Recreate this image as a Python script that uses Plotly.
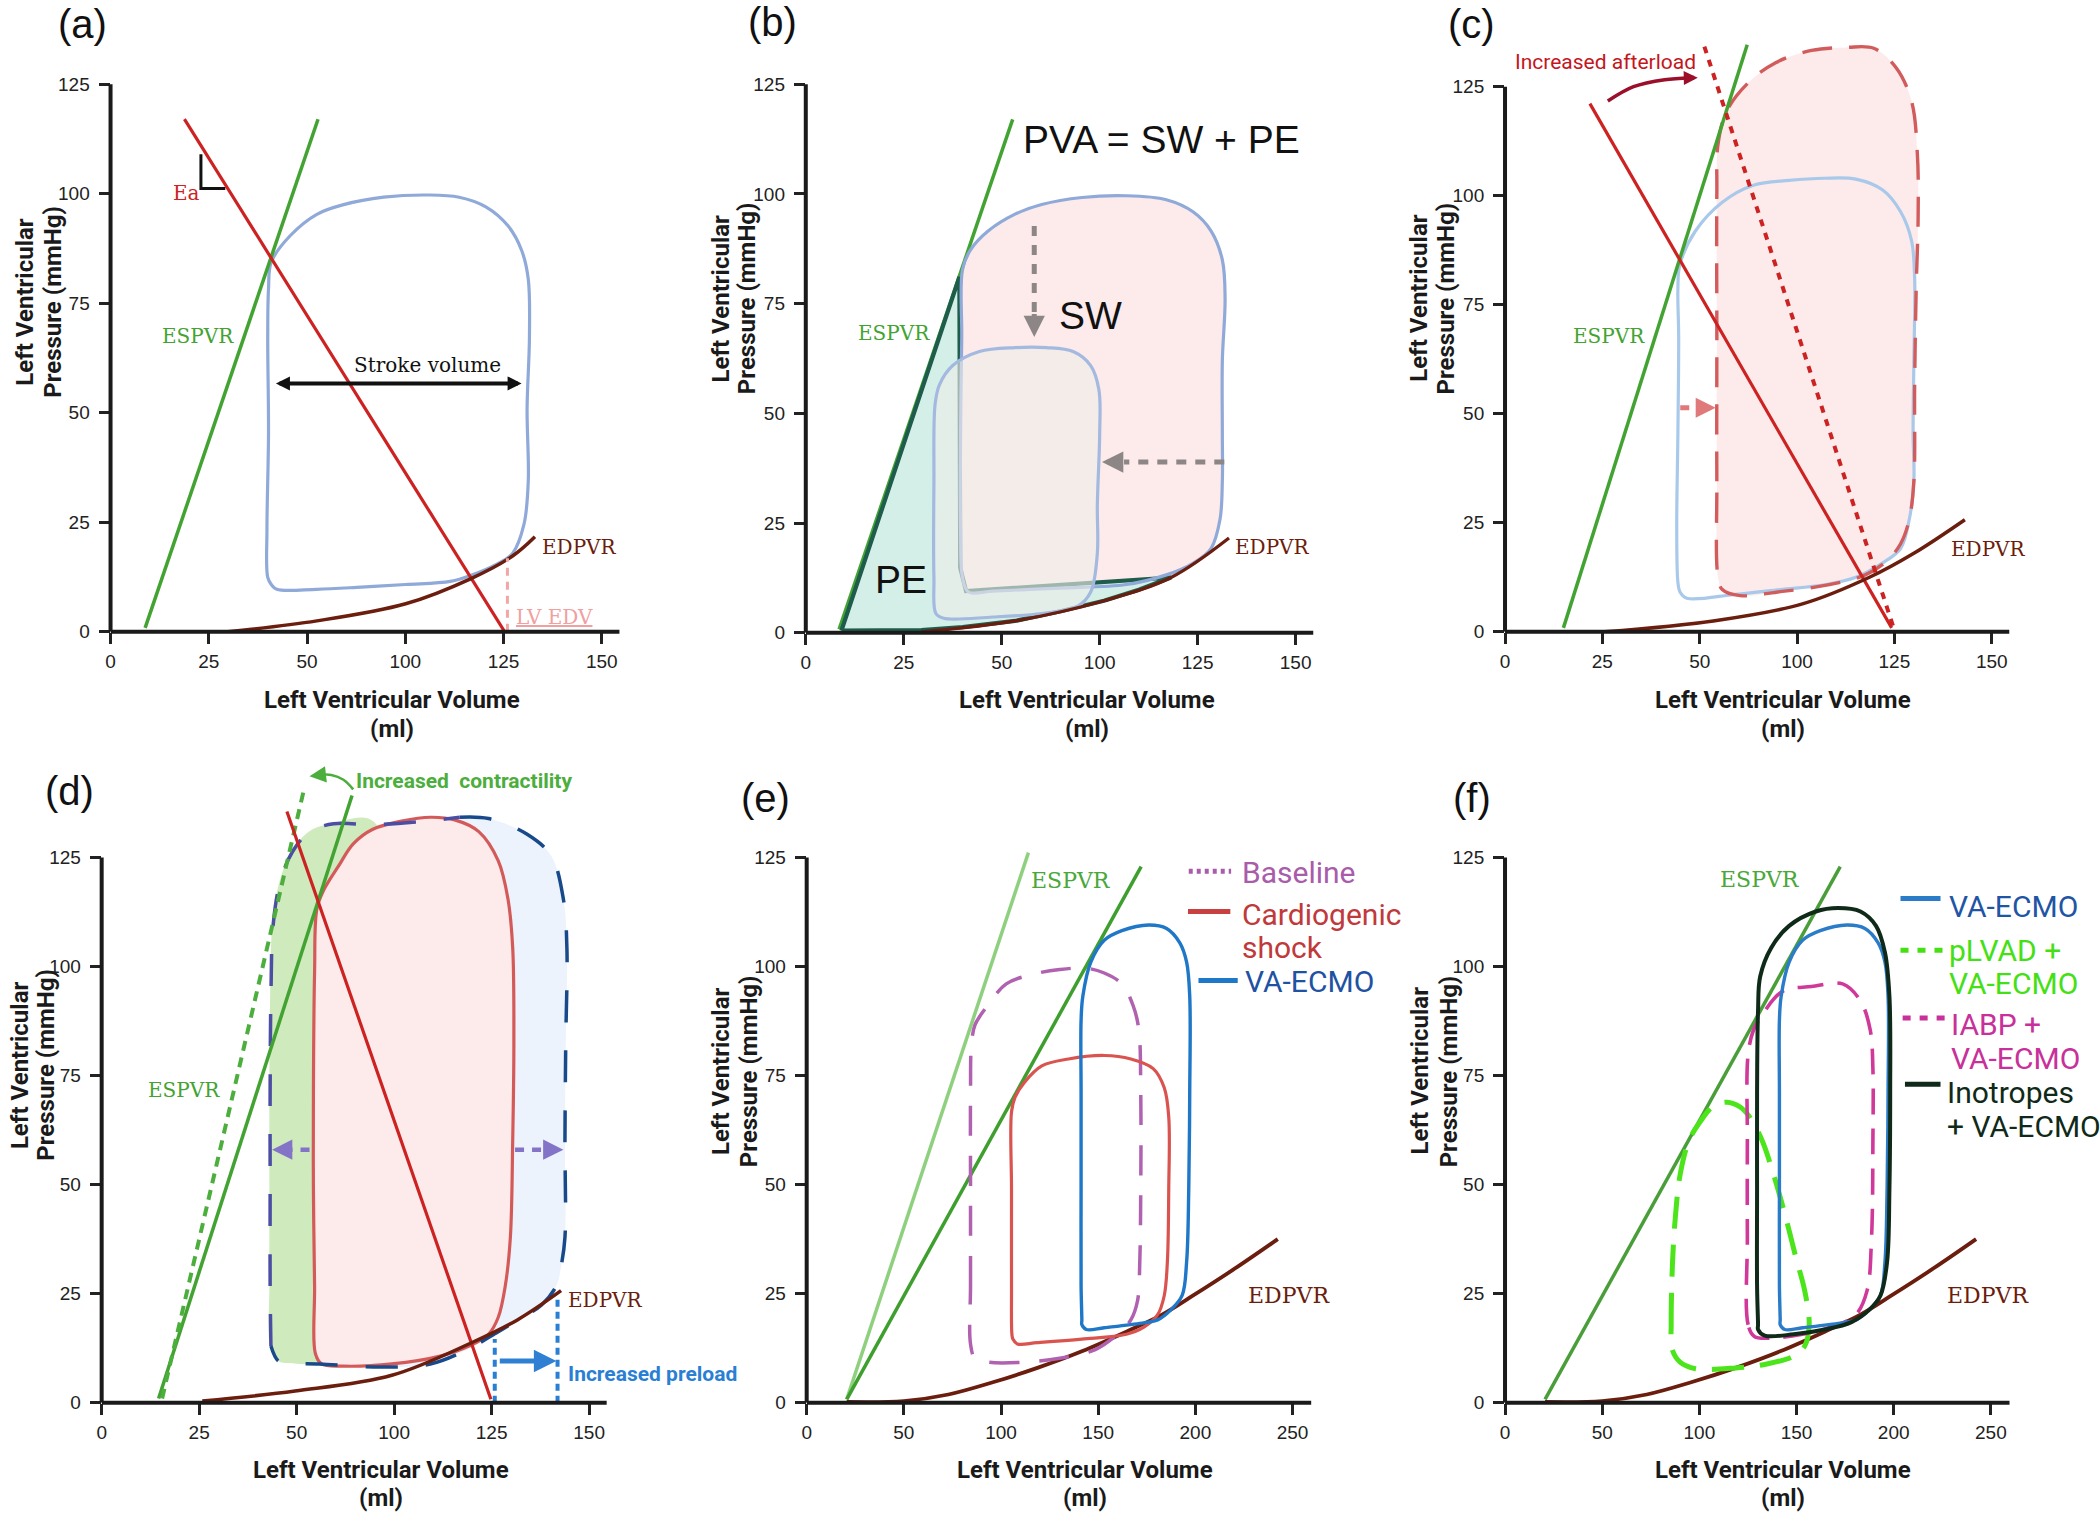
import plotly.graph_objects as go

W, H = 2100, 1523
SERIF = "DejaVu Serif"
SANS = "Liberation Sans"
ROBOTO = "Roboto"

# ---------------- axis ticks ----------------
XT_VALS_AD = [0, 25, 50, 75, 100, 125]
XT_TEXT_AD = ["0", "25", "50", "100", "125", "150"]
XT_VALS_EF = [0, 50, 100, 150, 200, 250]
XT_TEXT_EF = ["0", "50", "100", "150", "200", "250"]
YT_VALS = [0, 25, 50, 75, 100, 125]
YT_TEXT = ["0", "25", "50", "75", "100", "125"]
AXIS_END_AD = 129.5
AXIS_END_EF = 259.6
Y_AXIS_TOP = 125
X_TITLE = ["Left Ventricular Volume", "(ml)"]
Y_TITLE = ["Left Ventricular", "Pressure (mmHg)"]

# ---------------- panel (a) ----------------
A_ESPVR_V = [8.8, 52.8]
A_ESPVR_P = [0.9, 117.0]
A_EA_V = [18.8, 100.3]
A_EA_P = [117.0, 0.0]
A_EDPVR_V = [29.8, 52.5, 75.1, 91.6, 102.3, 108.0]
A_EDPVR_P = [0.0, 2.5, 6.4, 12.1, 17.3, 21.7]
A_LOOP_V = [40.0, 39.8, 40.2, 40.0, 40.2, 40.9, 45.7, 52.5, 59.3, 69.5, 80.8, 88.7, 95.5, 101.2, 104.6,
            106.3, 106.6, 106.0, 106.3, 105.2, 102.3, 97.8, 92.1, 86.5, 75.1, 63.8, 52.5, 42.3, 40.9, 40.0]
A_LOOP_P = [12.4, 23.4, 45.4, 67.3, 78.3, 84.4, 90.4, 95.3, 97.5, 99.2, 99.7, 99.2, 97.0, 92.6, 87.1,
            80.5, 67.3, 50.9, 34.4, 24.5, 17.9, 15.2, 13.0, 11.5, 10.8, 10.2, 9.7, 9.7, 10.8, 12.4]
A_SV_V = [41.7, 104.6]
A_SV_P = [56.7, 56.7]
A_EA_MARK_V = [23.0, 23.0, 29.2]
A_EA_MARK_P = [109.0, 101.2, 101.2]
A_EDV_V = [101.0, 101.0]
A_EDV_P = [0.0, 16.8]

# ---------------- panel (b) ----------------
B_ESPVR_V = [8.5, 52.8]
B_ESPVR_P = [0.8, 117.0]
B_EDPVR_V = [29.5, 53.4, 76.1, 93.2, 108.0]
B_EDPVR_P = [0.2, 2.7, 7.3, 12.6, 21.6]
B_BIG_V = [40.0, 42.0, 46.6, 53.4, 60.2, 70.5, 81.8, 92.0, 98.9, 103.4, 106.3, 107.0, 106.3, 106.3, 106.3,
           105.7, 103.4, 98.9, 92.0, 81.8, 64.8, 47.7, 41.5, 40.0, 39.5, 39.5, 39.8, 40.0]
B_BIG_P = [82.8, 87.2, 91.6, 95.4, 97.6, 99.2, 99.6, 98.7, 95.9, 91.6, 85.0, 76.2, 62.0, 45.5, 34.5,
           25.8, 19.2, 15.9, 13.2, 11.0, 10.2, 9.5, 9.3, 12.6, 23.6, 45.5, 67.4, 82.8]
B_SMALL_V = [37.5, 44.3, 53.4, 61.4, 68.2, 72.7, 74.8, 75.0, 74.4, 74.4, 72.7, 69.3, 60.2, 47.7, 35.2,
             33.2, 32.7, 32.7, 33.0, 34.1, 37.5]
B_SMALL_P = [60.9, 64.1, 65.0, 65.0, 64.1, 60.9, 55.4, 45.5, 29.1, 18.1, 9.3, 6.0, 4.4, 3.6, 3.3,
             4.4, 12.6, 34.5, 52.1, 56.5, 60.9]
B_PE_V = [9.1, 39.2, 39.4, 40.9, 93.2, 85.0, 76.1, 65.0, 53.4, 40.0, 29.5, 9.1]
B_PE_P = [0.5, 81.1, 14.8, 9.5, 12.6, 9.8, 7.3, 4.9, 2.7, 1.3, 0.6, 0.5]
B_ARROW_DOWN_V = [58.3, 58.3]
B_ARROW_DOWN_P = [92.7, 67.4]
B_ARROW_LEFT_V = [106.8, 75.6]
B_ARROW_LEFT_P = [38.9, 38.9]

# ---------------- panel (c) ----------------
C_ESPVR_V = [15.0, 62.2]
C_ESPVR_P = [0.9, 134.6]
C_EA_V = [21.8, 99.3]
C_EA_P = [121.1, 0.9]
C_EA_HIGH_V = [51.2, 99.8]
C_EA_HIGH_P = [134.2, 0.9]
C_EDPVR_V = [25.5, 53.5, 76.4, 93.6, 105.0, 118.1]
C_EDPVR_P = [0.0, 2.5, 6.4, 12.5, 18.0, 25.7]
C_BASE_V = [44.4, 44.1, 44.4, 44.6, 44.4, 44.9, 48.9, 55.8, 63.8, 73.0, 82.1, 90.1, 97.0, 101.6, 104.4,
            105.2, 105.0, 104.8, 105.0, 103.8, 101.6, 97.0, 90.1, 82.1, 70.7, 59.2, 46.7, 44.9, 44.4]
C_BASE_P = [11.4, 23.5, 45.6, 67.6, 78.7, 84.2, 91.9, 98.5, 102.4, 103.5, 104.0, 103.8, 101.3, 96.3, 89.7,
            80.9, 62.1, 45.6, 34.5, 25.7, 19.1, 15.8, 12.5, 10.8, 9.7, 8.6, 7.7, 9.2, 11.4]
C_AFTER_V = [54.7, 54.4, 54.4, 54.4, 54.7, 57.0, 62.7, 69.5, 78.7, 87.8, 94.7, 100.4, 104.4, 105.9, 106.1,
             105.6, 105.2, 105.0, 103.8, 101.6, 98.1, 92.4, 83.3, 70.7, 60.4, 55.8, 54.7]
C_AFTER_P = [12.5, 34.5, 67.6, 100.7, 111.8, 119.5, 126.1, 130.5, 133.3, 134.0, 133.8, 129.4, 121.7, 109.6, 95.2,
             78.7, 56.6, 34.5, 25.7, 20.2, 16.3, 13.0, 10.8, 9.2, 8.3, 9.7, 12.5]
C_SHIFT_V = [45.0, 54.1]
C_SHIFT_P = [51.4, 51.4]
C_CURVE_V = [26.4, 33.0, 41.0, 47.5]
C_CURVE_P = [121.7, 125.0, 126.6, 127.0]

# ---------------- panel (d) ----------------
D_ESPVR_V = [14.6, 64.2]
D_ESPVR_P = [1.0, 139.2]
D_ESPVR_HIGH_V = [15.5, 52.1]
D_ESPVR_HIGH_P = [1.0, 141.4]
D_EA_V = [47.5, 99.8]
D_EA_P = [135.5, 0.8]
D_EDPVR_V = [25.8, 49.6, 74.4, 94.7, 106.6, 117.8]
D_EDPVR_P = [0.4, 2.7, 6.3, 13.7, 19.0, 25.7]
D_DASH_V = [43.4, 43.2, 43.2, 43.2, 43.4, 44.0, 45.9, 49.0, 53.3, 59.5, 69.4, 80.6, 91.8, 99.2, 109.1,
            115.3, 118.4, 119.3, 119.0, 118.8, 118.8, 117.8, 116.6, 112.8, 107.9, 101.7, 94.2, 84.3, 71.9,
            55.8, 48.4, 45.3, 43.4]
D_DASH_P = [13.0, 26.8, 48.9, 71.1, 93.2, 109.8, 119.8, 126.4, 130.9, 132.7, 132.5, 133.1, 134.2, 133.9, 130.3,
            125.3, 115.4, 104.3, 82.2, 60.0, 37.9, 31.2, 26.8, 22.4, 19.6, 16.3, 12.4, 8.9, 8.2,
            8.9, 9.1, 9.6, 13.0]
D_GREEN_V = [56.0, 48.4, 45.3, 43.2, 43.0, 43.0, 43.0, 43.2, 43.8, 45.7, 48.8, 53.1, 59.5, 70.0, 70.0, 56.0]
D_GREEN_P = [8.9, 9.1, 9.6, 13.0, 26.8, 48.9, 71.1, 93.2, 109.8, 119.8, 126.4, 130.9, 132.9, 133.0, 12.0, 8.9]
D_RED_V = [55.2, 54.6, 54.3, 54.3, 54.6, 54.8, 56.4, 62.0, 74.4, 86.8, 94.2, 99.2, 101.7, 103.5, 104.8,
           105.4, 105.7, 105.4, 104.2, 101.7, 96.7, 90.5, 84.3, 76.9, 69.4, 64.5, 60.8, 57.0, 55.2]
D_RED_P = [113.2, 98.8, 71.1, 48.9, 26.8, 11.3, 8.9, 8.4, 8.9, 10.7, 13.0, 15.7, 19.6, 26.8, 37.9,
           60.0, 82.2, 104.3, 115.4, 124.2, 130.9, 133.6, 134.2, 133.3, 131.4, 128.1, 123.1, 117.6, 113.2]
D_LEFT_ARROW_V = [53.3, 43.7]
D_RIGHT_ARROW_V = [106.0, 118.4]
D_ARROWS_P = [58.0, 58.0]
D_PRELOAD_LINES_V = [100.8, 116.9]
D_PRELOAD_LINES_TOP = [14.6, 24.6]
D_PRELOAD_ARROW_V = [101.7, 116.6]
D_PRELOAD_ARROW_P = [9.6, 9.6]
D_CURVE_V = [64.5, 62.0, 58.9, 55.8]
D_CURVE_P = [140.6, 142.8, 143.9, 143.9]

# ---------------- panel (e) ----------------
E_ESPVR_LIGHT_V = [20.6, 114.1]
E_ESPVR_LIGHT_P = [0.8, 126.1]
E_ESPVR_V = [20.6, 172.1]
E_ESPVR_P = [0.8, 122.9]
EF_EDPVR_V = [20.6, 50.0, 72.9, 95.8, 118.7, 141.6, 164.5, 182.9, 198.9, 221.8, 242.4]
EF_EDPVR_P = [0.2, 0.4, 1.9, 4.7, 8.0, 11.8, 16.3, 20.2, 24.6, 31.2, 37.5]
E_BASE_V = [84.3, 84.3, 84.3, 84.3, 84.8, 86.6, 91.2, 102.7, 116.4, 130.2, 143.9, 153.1, 162.2, 168.0, 170.9,
            171.9, 171.9, 171.4, 170.3, 166.8, 159.9, 148.5, 130.2, 111.8, 93.5, 86.6, 84.3]
E_BASE_P = [13.5, 26.8, 48.9, 71.1, 82.2, 86.6, 89.9, 96.0, 98.2, 99.3, 99.6, 98.5, 96.0, 91.0, 85.5,
            71.1, 48.9, 32.3, 23.5, 19.0, 15.7, 12.2, 10.2, 9.3, 9.3, 10.2, 13.5]
E_SHOCK_V = [105.6, 105.4, 105.4, 105.4, 107.2, 111.8, 121.0, 134.7, 153.1, 166.8, 178.3, 184.0, 186.3, 186.3,
             185.6, 184.0, 180.6, 173.7, 164.5, 141.6, 118.7, 108.4, 106.1, 105.6]
E_SHOCK_P = [15.7, 26.8, 48.9, 66.7, 70.0, 73.3, 77.2, 78.8, 79.6, 78.8, 76.6, 72.2, 65.5, 48.9,
             32.3, 24.6, 20.2, 17.4, 15.7, 14.6, 13.8, 13.5, 14.6, 15.7]
VA_ECMO_V = [141.6, 141.2, 141.2, 141.2, 141.2, 142.1, 146.2, 153.1, 162.2, 176.0, 185.2, 192.0, 195.5, 197.1,
             197.1, 196.6, 195.5, 193.2, 187.4, 180.6, 171.4, 153.1, 143.9, 141.6, 141.6]
VA_ECMO_P = [19.0, 26.8, 48.9, 71.1, 87.7, 93.2, 101.0, 106.0, 108.2, 109.5, 108.7, 105.4, 101.0, 93.2,
             71.1, 48.9, 32.3, 24.6, 21.3, 19.0, 18.2, 17.2, 16.8, 17.9, 19.0]
E_LEGEND = ["Baseline", "Cardiogenic", "shock", "VA-ECMO"]

# ---------------- panel (f) ----------------
F_ESPVR_V = [20.6, 172.5]
F_ESPVR_P = [0.8, 122.9]
F_INO_V = [130.2, 129.7, 129.7, 129.7, 130.2, 131.3, 137.0, 146.2, 159.9, 171.4, 182.9, 190.9, 195.5, 197.8,
           198.2, 197.8, 196.6, 193.2, 187.4, 178.3, 164.5, 148.5, 133.6, 130.2, 130.2]
F_INO_P = [17.9, 26.8, 48.9, 71.1, 89.9, 97.7, 104.3, 109.3, 112.6, 113.4, 112.6, 109.3, 103.2, 93.2,
           71.1, 48.9, 32.3, 24.6, 21.3, 18.5, 16.8, 15.7, 15.4, 16.8, 17.9]
F_IABP_V = [128.3, 125.1, 124.7, 124.7, 125.1, 127.9, 131.3, 142.8, 157.7, 173.7, 182.9, 187.9, 189.3, 189.3,
            188.6, 186.3, 180.6, 171.4, 153.1, 139.3, 128.3]
F_IABP_P = [15.2, 17.9, 37.9, 60.0, 79.9, 85.5, 88.2, 94.3, 95.4, 96.0, 92.1, 85.5, 76.6, 60.0,
            37.9, 25.7, 20.2, 17.9, 15.7, 14.9, 15.2]
F_PLVAD_V = [85.9, 85.5, 86.2, 87.8, 90.1, 94.6, 100.4, 107.2, 114.1, 121.0, 126.7, 132.4, 138.2, 143.9,
             149.6, 154.2, 156.5, 154.2, 148.5, 134.7, 118.7, 98.1, 90.1, 85.9]
F_PLVAD_P = [12.4, 17.9, 32.3, 43.4, 52.3, 60.0, 64.4, 68.0, 68.9, 67.8, 65.0, 60.0, 52.3, 43.4,
             33.4, 25.7, 17.9, 13.0, 10.7, 8.9, 8.0, 7.8, 9.3, 12.4]
F_LEGEND = ["VA-ECMO", "pLVAD +", "VA-ECMO", "IABP +", "VA-ECMO", "Inotropes", "+ VA-ECMO"]

# ---------------- colours ----------------
C_GREEN = "#43a332"
C_RED = "#cc2222"
C_BROWN = "#6b1d0e"
C_LOOP = "#8fa9d9"
C_PINK = "#fdeaea"
C_AXIS = "#1a1a1a"

# ---------------- panel layout (pixels) ----------------
# xt1/xt2: x-title line centres; yt1/yt2: y-title line centres (x px) with common y centre ytc
PANELS = [
    dict(label="(a)", x0=105.8, sx=3.939, y0=636.4, sy=4.413, right=770, top=5, end=AXIS_END_AD,
         xt=(XT_VALS_AD, XT_TEXT_AD), lab=(77.2, 24.2), xtx=388.4, xty=(705.2, 734.3),
         ytx=(20.1, 48.2), yty=303.9),
    dict(label="(b)", x0=802.7, sx=3.928, y0=637.4, sy=4.42, right=1470, top=5, end=AXIS_END_AD,
         xt=(XT_VALS_AD, XT_TEXT_AD), lab=(769.2, 21.8), xtx=1084.8, xty=(705.2, 734.3),
         ytx=(717.9, 744.6), yty=300.5),
    dict(label="(c)", x0=1503.6, sx=3.903, y0=636.4, sy=4.393, right=2100, top=5, end=AXIS_END_AD,
         xt=(XT_VALS_AD, XT_TEXT_AD), lab=(1470.0, 24.2), xtx=1782.6, xty=(705.2, 734.3),
         ytx=(1417.9, 1444.6), yty=300.5),
    dict(label="(d)", x0=96.9, sx=3.909, y0=1413.0, sy=4.395, right=770, top=750, end=AXIS_END_AD,
         xt=(XT_VALS_AD, XT_TEXT_AD), lab=(64.5, 796.5), xtx=377.1, xty=(1480.2, 1509.4),
         ytx=(14.5, 41.2), yty=1072.4),
    dict(label="(e)", x0=803.6, sx=1.948, y0=1413.0, sy=4.395, right=1470, top=750, end=AXIS_END_EF,
         xt=(XT_VALS_EF, XT_TEXT_EF), lab=(762.5, 803.8), xtx=1082.6, xty=(1480.2, 1509.4),
         ytx=(717.9, 746.0), yty=1078.7),
    dict(label="(f)", x0=1503.6, sx=1.948, y0=1413.0, sy=4.395, right=2100, top=750, end=AXIS_END_EF,
         xt=(XT_VALS_EF, XT_TEXT_EF), lab=(1470.0, 803.8), xtx=1782.6, xty=(1480.2, 1509.4),
         ytx=(1417.9, 1446.9), yty=1078.7),
]

fig = go.Figure()
annotations = []
shapes = []


def ids(i):
    return ("x" if i == 1 else f"x{i}", "y" if i == 1 else f"y{i}")


def trace(i, xs, ys, color, width=3.2, dash="solid", smooth=False, fill=None, fillcolor=None):
    xa, ya = ids(i)
    fig.add_trace(go.Scatter(
        x=xs, y=ys, mode="lines",
        line=dict(color=color, width=width, dash=dash, shape="spline" if smooth else "linear", smoothing=1.0),
        fill=fill, fillcolor=fillcolor, xaxis=xa, yaxis=ya, hoverinfo="skip", showlegend=False))


def loop(i, xs, ys, color, width=3.0, dash="solid", fillcolor=None):
    if fillcolor:
        trace(i, xs, ys, "rgba(0,0,0,0)", 0.1, smooth=True, fill="toself", fillcolor=fillcolor)
    if color:
        trace(i, xs, ys, color, width, dash=dash, smooth=True)


def text(i, x, y, s, size, color, family=SERIF, xanchor="center", yanchor="middle"):
    xa, ya = ids(i)
    annotations.append(dict(x=x, y=y, xref=xa, yref=ya, text=s, showarrow=False, xanchor=xanchor,
                            yanchor=yanchor, font=dict(size=size, color=color, family=family)))


def paper_text(px, py, s, size, family, angle=0, color="#1a1a1a"):
    annotations.append(dict(x=px / W, y=1 - py / H, xref="paper", yref="paper", text=s, showarrow=False,
                            xanchor="center", yanchor="middle", textangle=angle, align="center",
                            font=dict(family=family, size=size, color=color)))


def arrow(i, x0, y0, x1, y1, color, width, size=1.0, head=2, both=False):
    xa, ya = ids(i)
    d = dict(x=x1, y=y1, ax=x0, ay=y0, xref=xa, yref=ya, axref=xa, ayref=ya, text="", showarrow=True,
             arrowhead=head, arrowsize=size, arrowwidth=width, arrowcolor=color, standoff=0)
    if both:
        d.update(arrowside="end+start", startarrowhead=head, startarrowsize=size, startstandoff=0)
    annotations.append(d)


def dashed_arrow(i, xs, ys, color, width, dash, size=0.8, back=0.18):
    x0, x1 = xs
    y0, y1 = ys
    bx = x1 - (x1 - x0) * back
    by = y1 - (y1 - y0) * back
    trace(i, [x0, bx], [y0, by], color, width, dash=dash)
    arrow(i, bx, by, x1, y1, color, width, size=size)


# ---------------- axes ----------------
layout_axes = {}
for k, p in enumerate(PANELS, start=1):
    xa, ya = ids(k)
    xr = (p["right"] - p["x0"]) / p["sx"]
    yr = (p["y0"] - p["top"]) / p["sy"]
    tick_font = dict(family=SANS, size=19, color="#222222")
    common = dict(tickmode="array", ticks="outside", ticklen=11, tickwidth=2.5, tickcolor="#222222",
                  showline=False, showgrid=False, zeroline=False, tickfont=tick_font, fixedrange=True)
    layout_axes["xaxis" if k == 1 else f"xaxis{k}"] = dict(
        domain=[p["x0"] / W, p["right"] / W], range=[0, xr], anchor=ya,
        tickvals=p["xt"][0], ticktext=p["xt"][1], ticklabelstandoff=1, **common)
    layout_axes["yaxis" if k == 1 else f"yaxis{k}"] = dict(
        domain=[1 - p["y0"] / H, 1 - p["top"] / H], range=[0, yr], anchor=xa,
        tickvals=YT_VALS, ticktext=YT_TEXT, ticklabelstandoff=5, **common)
    shapes.append(dict(type="line", xref=xa, yref=f"{ya} domain", x0=0, x1=p["end"], y0=0, y1=0,
                       line=dict(color=C_AXIS, width=4), layer="above"))
    shapes.append(dict(type="line", xref=f"{xa} domain", yref=ya, x0=0, x1=0, y0=0, y1=Y_AXIS_TOP,
                       line=dict(color=C_AXIS, width=4), layer="above"))
    for line_text, ty in zip(X_TITLE, p["xty"]):
        paper_text(p["xtx"], ty, f"<b>{line_text}</b>", 24, ROBOTO)
    for line_text, tx in zip(Y_TITLE, p["ytx"]):
        paper_text(tx, p["yty"], f"<b>{line_text}</b>", 24, ROBOTO, angle=-90)
    paper_text(p["lab"][0], p["lab"][1], p["label"], 40, SANS, color="#111111")

# ---------------- (a) ----------------
loop(1, A_LOOP_V, A_LOOP_P, C_LOOP, 3.2)
trace(1, A_ESPVR_V, A_ESPVR_P, C_GREEN, 3.5)
trace(1, A_EA_V, A_EA_P, C_RED, 3.2)
trace(1, A_EDPVR_V, A_EDPVR_P, C_BROWN, 3.5, smooth=True)
trace(1, A_EA_MARK_V, A_EA_MARK_P, "#111111", 3)
trace(1, A_EDV_V, A_EDV_P, "#f2a7a7", 3, dash="8px,6px")
arrow(1, A_SV_V[0], A_SV_P[0], A_SV_V[1], A_SV_P[1], "#111111", 4, size=0.7, both=True)
text(1, 80.6, 60.8, "Stroke volume", 20, "#111111")
text(1, 19.3, 100.2, "Ea", 20, C_RED)
text(1, 22.3, 67.5, "ESPVR", 20, C_GREEN)
text(1, 109.2, 19.3, "EDPVR", 20, C_BROWN, xanchor="left")
text(1, 102.6, 3.4, "<span style='text-decoration:underline'>LV EDV</span>", 20, "#f0a0a0", xanchor="left")

# ---------------- (b) ----------------
loop(2, B_BIG_V, B_BIG_P, None, fillcolor=C_PINK)
trace(2, B_ESPVR_V, B_ESPVR_P, C_GREEN, 3.5)
trace(2, B_PE_V, B_PE_P, "#1e5c4c", 4.2, fill="toself", fillcolor="#d4eee8")
loop(2, B_BIG_V, B_BIG_P, C_LOOP, 3.2)
loop(2, B_SMALL_V, B_SMALL_P, "#a3b9e0", 3.2, fillcolor="rgba(238,238,232,0.62)")
trace(2, B_EDPVR_V, B_EDPVR_P, C_BROWN, 3.2, smooth=True)
dashed_arrow(2, B_ARROW_DOWN_V, B_ARROW_DOWN_P, "#8c8686", 5, "10px,9px", size=0.85, back=0.22)
dashed_arrow(2, B_ARROW_LEFT_V, B_ARROW_LEFT_P, "#8c8686", 5, "10px,9px", size=0.85, back=0.18)
text(2, 55.0, 112.4, "PVA = SW + PE", 39, "#111111", family=SANS, xanchor="left")
text(2, 72.7, 72.4, "SW", 39, "#111111", family=SANS)
text(2, 24.4, 12.1, "PE", 39, "#111111", family=SANS)
text(2, 22.6, 68.3, "ESPVR", 20, C_GREEN)
text(2, 109.1, 19.5, "EDPVR", 20, C_BROWN, xanchor="left")

# ---------------- (c) ----------------
loop(3, C_AFTER_V, C_AFTER_P, None, fillcolor=C_PINK)
loop(3, C_BASE_V, C_BASE_P, "#a9c9ea", 3.2)
loop(3, C_AFTER_V, C_AFTER_P, "#d25c5c", 3.4, dash="30px,17px")
trace(3, C_ESPVR_V, C_ESPVR_P, C_GREEN, 3.5)
trace(3, C_EA_V, C_EA_P, C_RED, 3.2)
trace(3, C_EA_HIGH_V, C_EA_HIGH_P, C_RED, 4, dash="7px,7px")
trace(3, C_EDPVR_V, C_EDPVR_P, C_BROWN, 3.5, smooth=True)
dashed_arrow(3, C_SHIFT_V, C_SHIFT_P, "#e07a7a", 5, "9px,8px", size=0.8, back=0.45)
trace(3, C_CURVE_V, C_CURVE_P, "#9b0f2b", 3.5, smooth=True)
arrow(3, C_CURVE_V[-1] - 0.5, C_CURVE_P[-1], C_CURVE_V[-1] + 2.0, C_CURVE_P[-1] + 0.05, "#9b0f2b", 4, size=0.7)
text(3, 2.1, 130.7, "Increased afterload", 21, "#c4161c", family=ROBOTO, xanchor="left")
text(3, 26.6, 67.9, "ESPVR", 20, C_GREEN)
text(3, 114.1, 19.1, "EDPVR", 20, C_BROWN, xanchor="left")

# ---------------- (d) ----------------
loop(4, D_DASH_V, D_DASH_P, None, fillcolor="#ecf3fc")
trace(4, D_GREEN_V, D_GREEN_P, "rgba(0,0,0,0)", 0.1, smooth=True, fill="toself", fillcolor="#cfeabd")
loop(4, D_RED_V, D_RED_P, "#d45a5a", 3.2, fillcolor=C_PINK)
trace(4, D_DASH_V[:13], D_DASH_P[:13], "#4c4ea3", 3.5, dash="32px,28px", smooth=True)
trace(4, D_DASH_V[12:], D_DASH_P[12:], "#18498a", 3.5, dash="32px,28px", smooth=True)
trace(4, D_ESPVR_V, D_ESPVR_P, C_GREEN, 3.5)
trace(4, D_ESPVR_HIGH_V, D_ESPVR_HIGH_P, "#4cae3c", 4, dash="10px,7px")
trace(4, D_EA_V, D_EA_P, C_RED, 3.2)
trace(4, D_EDPVR_V, D_EDPVR_P, C_BROWN, 3.5, smooth=True)
dashed_arrow(4, D_LEFT_ARROW_V, D_ARROWS_P, "#8474c8", 4.5, "9px,8px", size=0.9, back=0.42)
dashed_arrow(4, D_RIGHT_ARROW_V, D_ARROWS_P, "#8474c8", 4.5, "9px,8px", size=0.9, back=0.34)
for xv, top in zip(D_PRELOAD_LINES_V, D_PRELOAD_LINES_TOP):
    trace(4, [xv, xv], [0, top], "#2a7fd4", 4, dash="7px,5px")
arrow(4, D_PRELOAD_ARROW_V[0], D_PRELOAD_ARROW_P[0], D_PRELOAD_ARROW_V[1], D_PRELOAD_ARROW_P[1],
      "#2f80d2", 5, size=0.9)
trace(4, D_CURVE_V, D_CURVE_P, "#4cae3c", 2.6, smooth=True)
arrow(4, D_CURVE_V[-1] + 0.5, D_CURVE_P[-1], D_CURVE_V[-1] - 2.5, D_CURVE_P[-1] - 0.3, "#4cae3c", 3, size=1.1)
text(4, 64.6, 142.6, "<b>Increased  contractility</b>", 21, "#4cae3c", family=ROBOTO, xanchor="left")
text(4, 119.0, 6.6, "<b>Increased preload</b>", 21, "#2a7fd4", family=ROBOTO, xanchor="left")
text(4, 21.1, 71.6, "ESPVR", 20, C_GREEN)
text(4, 119.0, 23.5, "EDPVR", 20, C_BROWN, xanchor="left")

# ---------------- (e) ----------------
trace(5, E_ESPVR_LIGHT_V, E_ESPVR_LIGHT_P, "#8fd07f", 3.5)
trace(5, E_ESPVR_V, E_ESPVR_P, "#3e9e2e", 3.5)
trace(5, EF_EDPVR_V, EF_EDPVR_P, C_BROWN, 3.8, smooth=True)
loop(5, E_BASE_V, E_BASE_P, "#b062b0", 3.5, dash="30px,20px")
loop(5, E_SHOCK_V, E_SHOCK_P, "#d9534f", 3.2)
loop(5, VA_ECMO_V, VA_ECMO_P, "#1f77c8", 3.4)
text(5, 136.1, 119.6, "ESPVR", 22, "#4aa83a")
text(5, 248.4, 24.6, "EDPVR", 22, C_BROWN)
trace(5, [196.6, 218.4], [121.8, 121.8], "#a85caa", 5, dash="4px,4px")
trace(5, [196.2, 218.0], [112.6, 112.6], "#c8403f", 5)
trace(5, [201.6, 221.8], [96.8, 96.8], "#1f77c8", 5)
text(5, 223.0, 121.5, E_LEGEND[0], 30, "#a85caa", family=ROBOTO, xanchor="left")
text(5, 223.0, 112.0, E_LEGEND[1], 30, "#c0393b", family=ROBOTO, xanchor="left")
text(5, 223.0, 104.3, E_LEGEND[2], 30, "#c0393b", family=ROBOTO, xanchor="left")
text(5, 224.6, 96.5, E_LEGEND[3], 30, "#1f52a3", family=ROBOTO, xanchor="left")

# ---------------- (f) ----------------
trace(6, F_ESPVR_V, F_ESPVR_P, "#4a9e3a", 3.5)
trace(6, EF_EDPVR_V, EF_EDPVR_P, C_BROWN, 3.8, smooth=True)
loop(6, F_PLVAD_V, F_PLVAD_P, "#4ce41a", 5, dash="32px,16px")
loop(6, F_IABP_V, F_IABP_P, "#d0399a", 3.6, dash="26px,14px")
loop(6, VA_ECMO_V, VA_ECMO_P, "#2a7cc8", 3.4)
loop(6, F_INO_V, F_INO_P, "#0f2a18", 4)
text(6, 131.3, 120.0, "ESPVR", 22, "#4aa83a")
text(6, 248.4, 24.6, "EDPVR", 22, C_BROWN)
trace(6, [203.5, 224.1], [115.6, 115.6], "#2a7cc8", 5)
trace(6, [203.5, 225.2], [103.7, 103.7], "#44e014", 5, dash="8px,9px")
trace(6, [204.6, 226.4], [88.2, 88.2], "#c8309a", 5, dash="8px,9px")
trace(6, [205.8, 224.1], [73.0, 73.0], "#0f2a18", 5)
text(6, 227.5, 113.7, F_LEGEND[0], 30, "#1f55a5", family=ROBOTO, xanchor="left")
text(6, 227.5, 103.7, F_LEGEND[1], 30, "#44e014", family=ROBOTO, xanchor="left")
text(6, 227.5, 96.2, F_LEGEND[2], 30, "#44e014", family=ROBOTO, xanchor="left")
text(6, 228.7, 86.6, F_LEGEND[3], 30, "#c8309a", family=ROBOTO, xanchor="left")
text(6, 228.7, 78.8, F_LEGEND[4], 30, "#c8309a", family=ROBOTO, xanchor="left")
text(6, 226.4, 71.1, F_LEGEND[5], 30, "#0f2a18", family=ROBOTO, xanchor="left")
text(6, 226.4, 63.3, F_LEGEND[6], 30, "#0f2a18", family=ROBOTO, xanchor="left")

fig.update_layout(
    width=W, height=H, margin=dict(l=0, r=0, t=0, b=0),
    paper_bgcolor="white", plot_bgcolor="rgba(0,0,0,0)",
    showlegend=False, annotations=annotations, shapes=shapes,
    font=dict(family=SANS), **layout_axes)

PIN_TOP_LEFT = (
    "document.documentElement.style.margin='0';document.documentElement.style.overflow='hidden';"
    "document.body.style.margin='0';document.body.style.overflow='hidden';"
    "var gd=document.getElementById('{plot_id}');gd.style.position='fixed';gd.style.left='0px';gd.style.top='0px';"
)
fig.write_html("out.html", config={"displayModeBar": False}, post_script=PIN_TOP_LEFT)
